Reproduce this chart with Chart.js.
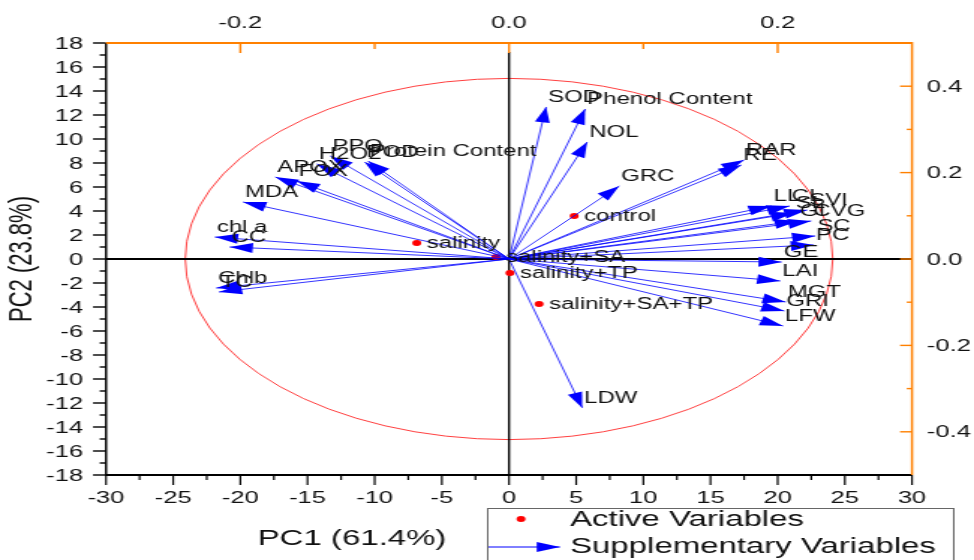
<!DOCTYPE html>
<html><head><meta charset="utf-8">
<script src="https://cdn.jsdelivr.net/npm/chart.js@4.4.0/dist/chart.umd.min.js"></script>
<style>
html,body{margin:0;padding:0;background:#fff;overflow:hidden;}
#wrap{width:974px;height:560px;overflow:hidden;position:relative;background:#fff;}
#c{position:absolute;left:0;top:0;transform-origin:0 0;transform:scaleX(1.498462);}
</style></head><body>
<div id="wrap"><canvas id="c" width="650" height="560"></canvas></div>
<script>
// ---------- data ----------
const supplementaryNames = ['SOD','Phenol Content','NOL','GRC','RE','RAR','LL','CL','SL','SVI','GI','CVG','SC','PC','GE','LAI','MGT','GRI','LFW','LDW','PPO','H2O2','POD','Protein Content','APOX','FOX','MDA','chl a','CC','Chlb','TC'];
const supplementaryPC1 = [2.76,5.67,5.82,8.21,17.3,17.5,19.55,20.9,21.2,22.2,21.5,22.5,22.8,22.7,20.3,20.2,20.6,20.5,20.4,5.45,-13.3,-14.3,-10.75,-10.5,-17.4,-15.8,-19.8,-21.9,-20.8,-21.8,-21.6];
const supplementaryPC2 = [12.67,12.5,9.75,6.08,7.83,8.25,4.42,4.42,3.83,4.08,3.17,3.17,1.92,1.17,-0.25,-1.83,-3.58,-4.33,-5.58,-12.4,8.58,7.92,8.08,8.17,6.83,6.5,4.75,1.83,1.0,-2.42,-2.75];
const activeNames = ['control','salinity','salinity+SA','salinity+TP','salinity+SA+TP'];
const activePC1 = [4.85,-6.87,-0.97,0.07,2.24];
const activePC2 = [3.58,1.33,0.17,-1.17,-3.75];
const ellipseCenter = [0, 0];
const ellipseRadii = [24.1, 15.05];
const xTickValues = [-30,-25,-20,-15,-10,-5,0,5,10,15,20,25,30];
const xMinorTickValues = [-27.5,-22.5,-17.5,-12.5,-7.5,-2.5,2.5,7.5,12.5,17.5,22.5,27.5];
const yTickValues = [-18,-16,-14,-12,-10,-8,-6,-4,-2,0,2,4,6,8,10,12,14,16,18];
const yMinorTickValues = [-17,-15,-13,-11,-9,-7,-5,-3,-1,1,3,5,7,9,11,13,15,17];
const topTickValues = [-0.2,0,0.2];
const topTickLabels = ['-0.2','0.0','0.2'];
const topMinorTickValues = [-0.1,0.1];
const rightTickValues = [0.4,0.2,0,-0.2,-0.4];
const rightTickLabels = ['0.4','0.2','0.0','-0.2','-0.4'];
const rightMinorTickValues = [0.3,0.1,-0.1,-0.3];
const xTitle = 'PC1 (61.4%)';
const yTitle = 'PC2 (23.8%)';
const legendLabels = ['Active Variables','Supplementary Variables'];

// ---------- drawing ----------
const SX = 974/650;
const FONT = '"Liberation Sans", Arial, Helvetica, sans-serif';
const ORANGE = '#ff8000';
const BLUE = '#0000ff';

const activeData = activePC1.map((v,i)=>({x:v, y:activePC2[i]}));
const lineData = [];
supplementaryPC1.forEach((v,i)=>{
  lineData.push({x:0,y:0});
  lineData.push({x:v,y:supplementaryPC2[i]});
  lineData.push({x:null,y:null});
});

function arrowHead(ctx, ox, oy, tx, ty, L, W, color){
  const ang = Math.atan2(ty-oy, tx-ox);
  const c = Math.cos(ang), s = Math.sin(ang);
  const bx = tx - L*c, by = ty - L*s;
  ctx.beginPath();
  ctx.moveTo(tx, ty);
  ctx.lineTo(bx - W*s, by + W*c);
  ctx.lineTo(bx + W*s, by - W*c);
  ctx.closePath();
  ctx.fillStyle = color;
  ctx.fill();
}

const biplot = {
  id: 'biplot',
  beforeDatasetsDraw(chart){
    const {ctx, chartArea:a, scales:{x,y}} = chart;
    ctx.save();
    const cx = x.getPixelForValue(ellipseCenter[0]);
    const cy = y.getPixelForValue(ellipseCenter[1]);
    const rx = x.getPixelForValue(ellipseCenter[0]+ellipseRadii[0]) - cx;
    const ry = cy - y.getPixelForValue(ellipseCenter[1]+ellipseRadii[1]);
    ctx.beginPath();
    ctx.ellipse(cx, cy, rx, ry, 0, 0, Math.PI*2);
    ctx.strokeStyle = 'rgba(255,30,30,0.85)';
    ctx.lineWidth = 1;
    ctx.stroke();
    const x0 = x.getPixelForValue(0), y0 = y.getPixelForValue(0);
    ctx.strokeStyle = '#000';
    ctx.lineWidth = 1.8;
    ctx.beginPath(); ctx.moveTo(a.left, y0); ctx.lineTo(a.right, y0); ctx.stroke();
    ctx.lineWidth = 1.4;
    ctx.beginPath(); ctx.moveTo(x0, a.top+9); ctx.lineTo(x0, a.bottom); ctx.stroke();
    ctx.restore();
  },
  afterDatasetsDraw(chart){
    const {ctx, scales:{x,y}} = chart;
    ctx.save();
    const ox = x.getPixelForValue(0), oy = y.getPixelForValue(0);
    supplementaryPC1.forEach((v,i)=>{
      const tx = x.getPixelForValue(v), ty = y.getPixelForValue(supplementaryPC2[i]);
      arrowHead(ctx, ox, oy, tx, ty, 15.5, 5, BLUE);
    });
    ctx.fillStyle = '#111';
    ctx.font = '16px ' + FONT;
    ctx.textAlign = 'left';
    ctx.textBaseline = 'middle';
    supplementaryNames.forEach((n,i)=>{
      const tx = x.getPixelForValue(supplementaryPC1[i]), ty = y.getPixelForValue(supplementaryPC2[i]);
      ctx.fillText(n, tx + 1.3, ty - 9);
    });
    activeNames.forEach((n,i)=>{
      const tx = x.getPixelForValue(activePC1[i]), ty = y.getPixelForValue(activePC2[i]);
      ctx.fillText(n, tx + 6.7, ty + 1);
    });
    ctx.restore();
  },
  afterDraw(chart){
    const {ctx, chartArea:a, scales:{x,y,x2,y2}} = chart;
    ctx.save();
    ctx.lineCap = 'butt';
    // left axis (black)
    ctx.strokeStyle = '#000';
    ctx.lineWidth = 1.5;
    ctx.beginPath(); ctx.moveTo(a.left, a.top); ctx.lineTo(a.left, a.bottom+1); ctx.stroke();
    ctx.lineWidth = 1.4;
    yTickValues.forEach(v=>{ const p=y.getPixelForValue(v); ctx.beginPath(); ctx.moveTo(a.left-8.7,p); ctx.lineTo(a.left,p); ctx.stroke(); });
    yMinorTickValues.forEach(v=>{ const p=y.getPixelForValue(v); ctx.beginPath(); ctx.moveTo(a.left-4.2,p); ctx.lineTo(a.left,p); ctx.stroke(); });
    // bottom axis (black)
    ctx.lineWidth = 2;
    ctx.beginPath(); ctx.moveTo(a.left, a.bottom); ctx.lineTo(a.right, a.bottom); ctx.stroke();
    ctx.lineWidth = 1.2;
    xTickValues.forEach(v=>{ const p=x.getPixelForValue(v); ctx.beginPath(); ctx.moveTo(p,a.bottom); ctx.lineTo(p,a.bottom+10); ctx.stroke(); });
    xMinorTickValues.forEach(v=>{ const p=x.getPixelForValue(v); ctx.beginPath(); ctx.moveTo(p,a.bottom); ctx.lineTo(p,a.bottom+5); ctx.stroke(); });
    // top axis (orange)
    ctx.strokeStyle = ORANGE;
    ctx.lineWidth = 2;
    ctx.beginPath(); ctx.moveTo(a.left, a.top); ctx.lineTo(a.right, a.top); ctx.stroke();
    ctx.lineWidth = 1.4;
    topTickValues.forEach(v=>{ const p=x2.getPixelForValue(v); ctx.beginPath(); ctx.moveTo(p,a.top); ctx.lineTo(p,a.top+10); ctx.stroke(); });
    topMinorTickValues.forEach(v=>{ const p=x2.getPixelForValue(v); ctx.beginPath(); ctx.moveTo(p,a.top); ctx.lineTo(p,a.top+6); ctx.stroke(); });
    // right axis (orange)
    ctx.lineWidth = 1.5;
    ctx.beginPath(); ctx.moveTo(a.right, a.top-1); ctx.lineTo(a.right, a.bottom); ctx.stroke();
    ctx.lineWidth = 1.4;
    rightTickValues.forEach(v=>{ const p=y2.getPixelForValue(v); ctx.beginPath(); ctx.moveTo(a.right-8,p); ctx.lineTo(a.right,p); ctx.stroke(); });
    rightMinorTickValues.forEach(v=>{ const p=y2.getPixelForValue(v); ctx.beginPath(); ctx.moveTo(a.right-3.5,p); ctx.lineTo(a.right,p); ctx.stroke(); });

    // tick labels
    ctx.fillStyle = '#111';
    ctx.font = '17px ' + FONT;
    ctx.textBaseline = 'middle';
    ctx.textAlign = 'right';
    yTickValues.forEach(v=>{ ctx.fillText(String(v), a.left-15.3, y.getPixelForValue(v)+1); });
    ctx.textAlign = 'center';
    xTickValues.forEach(v=>{ ctx.fillText(String(v), x.getPixelForValue(v), a.bottom+23); });
    topTickValues.forEach((v,i)=>{ ctx.fillText(topTickLabels[i], x2.getPixelForValue(v), a.top-20); });
    ctx.textAlign = 'left';
    rightTickValues.forEach((v,i)=>{ ctx.fillText(rightTickLabels[i], a.right+10, y2.getPixelForValue(v)+1); });

    // axis titles
    ctx.font = '22px ' + FONT;
    ctx.textAlign = 'center';
    ctx.fillText(xTitle, 352/SX, 539);
    ctx.save();
    ctx.translate(23/SX, 259);
    ctx.rotate(-Math.PI/2);
    ctx.fillText(yTitle, 0, 0);
    ctx.restore();

    // legend
    const lx = 487/SX, ly = 508, lr = 953/SX;
    ctx.strokeStyle = '#666';
    ctx.lineWidth = 1;
    ctx.strokeRect(lx+0.5, ly+0.5, lr-lx, 80);
    ctx.beginPath();
    ctx.arc(521/SX, 519, 3, 0, Math.PI*2);
    ctx.fillStyle = '#ff0000';
    ctx.fill();
    ctx.strokeStyle = BLUE;
    ctx.lineWidth = 1;
    ctx.beginPath(); ctx.moveTo(lx+1, 547); ctx.lineTo(560/SX, 547); ctx.stroke();
    arrowHead(ctx, lx, 547, 560/SX, 547, 15.5, 5, BLUE);
    ctx.fillStyle = '#111';
    ctx.font = '22px ' + FONT;
    ctx.textAlign = 'left';
    ctx.fillText(legendLabels[0], 570/SX, 520);
    ctx.fillText(legendLabels[1], 570/SX, 547);
    ctx.restore();
  }
};

new Chart(document.getElementById('c'), {
  type: 'scatter',
  data: {
    datasets: [
      {
        label: 'Supplementary Variables',
        data: lineData,
        showLine: true,
        spanGaps: false,
        borderColor: 'rgba(0,0,255,0.8)',
        borderWidth: 1,
        pointRadius: 0,
        pointHoverRadius: 0,
        order: 1
      },
      {
        label: 'Active Variables',
        data: activeData,
        backgroundColor: '#ff0000',
        borderWidth: 0,
        pointRadius: 3,
        order: 2
      }
    ]
  },
  options: {
    responsive: false,
    animation: false,
    events: [],
    layout: { padding: { left: 106/SX, right: 650 - 912/SX, top: 43, bottom: 85 } },
    plugins: { legend: { display: false }, tooltip: { enabled: false } },
    scales: {
      x: { type: 'linear', min: -30, max: 30, display: false },
      y: { type: 'linear', min: -18, max: 18, display: false },
      x2: { type: 'linear', position: 'top', min: -0.3, max: 0.3, display: false },
      y2: { type: 'linear', position: 'right', min: -0.5, max: 0.5, display: false }
    }
  },
  plugins: [biplot]
});
</script>
</body></html>
